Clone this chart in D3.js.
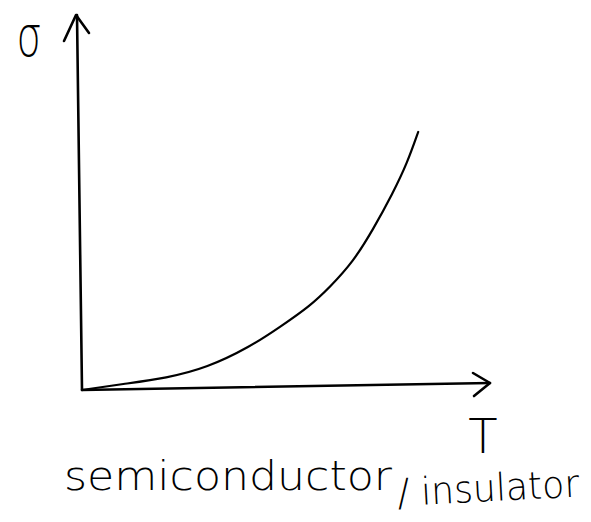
<!DOCTYPE html>
<html>
<head>
<meta charset="utf-8">
<script src="https://cdn.jsdelivr.net/npm/d3@7"></script>
<style>
  body { margin: 0; background: #fff; }
  text { font-family: "DejaVu Sans", sans-serif; fill: #000; }
</style>
</head>
<body>
<svg id="chart" width="591" height="522"></svg>
<script>
// sketch values (arbitrary units, 0..1 on each axis)
const temperature = [0, 0.100, 0.208, 0.306, 0.412, 0.485, 0.559, 0.608, 0.664, 0.713, 0.762, 0.797, 0.824];
const conductivity = [0, 0.016, 0.032, 0.059, 0.115, 0.168, 0.224, 0.275, 0.341, 0.427, 0.525, 0.605, 0.688];
const yLabel = "σ";
const xLabel = "T";
const caption = ["semiconductor", "/ insulator"];

const svg = d3.select("#chart");

const x = d3.scaleLinear().domain([0, 1]).range([82, 490]);
const y = d3.scaleLinear().domain([0, 1]).range([390, 15]);

const ink = "#000";

// axes drawn by hand, no ticks
const axes = svg.append("g")
  .attr("fill", "none")
  .attr("stroke", ink)
  .attr("stroke-width", 2.6)
  .attr("stroke-linecap", "round")
  .attr("stroke-linejoin", "round");

// y axis (slightly leaning, like the pen stroke)
axes.append("path")
  .attr("d", `M${x(0)},${y(0)} L${x(0) - 5},${y(1)}`);
axes.append("path")
  .attr("d", `M${x(0) - 18},${y(1) + 26} L${x(0) - 6},${y(1)} L${x(0) + 7},${y(1) + 18}`);

// x axis (rises a touch to the right)
axes.append("path")
  .attr("d", `M${x(0)},${y(0)} L${x(1)},${y(0) - 7}`);
axes.append("path")
  .attr("d", `M${x(1) - 17},${y(0) - 17} L${x(1)},${y(0) - 7} L${x(1) - 16},${y(0) + 6}`);

// curve, smoothed like a pen stroke
const data = temperature.map((t, i) => ({ t, s: conductivity[i] }));
const line = d3.line()
  .x(d => x(d.t))
  .y(d => y(d.s))
  .curve(d3.curveBasis);

svg.append("path")
  .datum(data)
  .attr("fill", "none")
  .attr("stroke", ink)
  .attr("stroke-width", 2.2)
  .attr("stroke-linecap", "round")
  .attr("d", line);

// labels
svg.append("text")
  .attr("transform", "translate(29,56) scale(0.9,1.3)")
  .attr("text-anchor", "middle")
  .style("font-size", "44px")
  .style("font-weight", "200")
  .text(yLabel);

svg.append("text")
  .attr("x", 483)
  .attr("y", 453)
  .attr("text-anchor", "middle")
  .style("font-size", "48px")
  .style("font-weight", "200")
  .text(xLabel);

svg.append("text")
  .attr("x", 64)
  .attr("y", 490)
  .attr("textLength", 328)
  .attr("lengthAdjust", "spacingAndGlyphs")
  .style("font-size", "40px")
  .style("font-weight", "200")
  .text(caption[0]);

svg.append("text")
  .attr("transform", "translate(398,506) rotate(-3)")
  .attr("textLength", 182)
  .attr("lengthAdjust", "spacingAndGlyphs")
  .style("font-size", "38px")
  .style("font-weight", "200")
  .text(caption[1]);
</script>
</body>
</html>
